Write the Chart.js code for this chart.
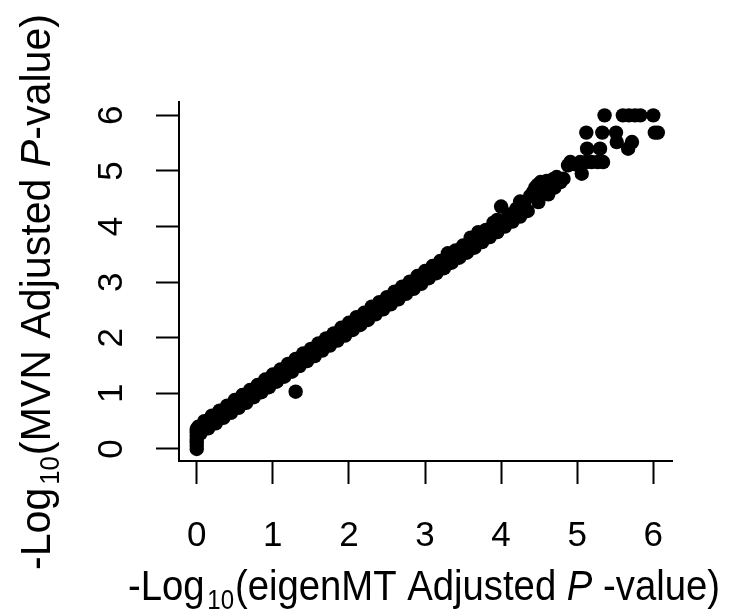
<!DOCTYPE html>
<html>
<head>
<meta charset="utf-8">
<script src="https://cdn.jsdelivr.net/npm/chart.js@4/dist/chart.umd.min.js"></script>
<style>
  html, body { margin: 0; padding: 0; background: #fff; }
  #wrap { width: 735px; height: 614px; }
</style>
</head>
<body>
<div id="wrap"><canvas id="c" width="735" height="614"></canvas></div>
<script>
// -log10 adjusted p-values
// x = eigenMT, y = MVN
const eigenMT = [
  // stack at zero
  0, 0, 0, 0, 0, 0, 0, 0.02,
  // upper side of the band
  0.1, 0.2, 0.3, 0.4, 0.5, 0.6, 0.7, 0.8, 0.9, 1.0,
  1.1, 1.2, 1.3, 1.4, 1.5, 1.6, 1.7, 1.8, 1.9, 2.0,
  2.1, 2.2, 2.3, 2.4, 2.5, 2.6, 2.7, 2.8, 2.9, 3.0,
  3.1, 3.2, 3.3, 3.4, 3.5, 3.6, 3.7, 3.8, 3.9, 3.95,
  4.0, 4.1, 4.2, 4.25, 4.3,
  // lower side of the band
  0.05, 0.15, 0.25, 0.35, 0.45, 0.55, 0.65, 0.75, 0.85, 0.95,
  1.05, 1.15, 1.25, 1.35, 1.45, 1.55, 1.65, 1.75, 1.85, 1.95,
  2.05, 2.15, 2.25, 2.35, 2.45, 2.55, 2.65, 2.75, 2.85, 2.95,
  3.05, 3.15, 3.25, 3.35, 3.45, 3.55, 3.65, 3.75, 3.85, 3.95,
  4.05, 4.15, 4.25, 4.35,
  // cluster 4.4 - 5.3
  4.38, 4.42, 4.45, 4.48, 4.50, 4.49, 4.52, 4.55, 4.58, 4.60,
  4.62, 4.65, 4.68, 4.70, 4.73, 4.78, 4.82, 4.88, 4.91, 4.97,
  5.04, 5.06, 5.12, 5.19, 5.27, 5.34,
  // top rows
  5.36, 5.60, 5.68, 5.76, 5.83, 6.00,
  5.12, 5.33, 5.51, 6.02, 6.06,
  5.13, 5.30, 5.52, 5.67, 5.72,
  // outlier
  1.30
];
const mvn = [
  0, 0.06, 0.12, 0.18, 0.24, 0.30, 0.36, 0.40,
  0.50, 0.60, 0.69, 0.78, 0.88, 0.97, 1.06, 1.15, 1.25, 1.34,
  1.43, 1.53, 1.62, 1.72, 1.80, 1.90, 1.99, 2.08, 2.18, 2.27,
  2.37, 2.45, 2.56, 2.64, 2.73, 2.83, 2.92, 3.01, 3.11, 3.20,
  3.29, 3.38, 3.52, 3.57, 3.66, 3.80, 3.90, 3.94, 4.07, 4.12,
  4.36, 4.22, 4.32, 4.45, 4.42,
  0.28, 0.37, 0.46, 0.56, 0.65, 0.74, 0.83, 0.93, 1.02, 1.11,
  1.21, 1.30, 1.39, 1.49, 1.58, 1.67, 1.77, 1.86, 1.95, 2.04,
  2.14, 2.23, 2.32, 2.42, 2.51, 2.60, 2.69, 2.79, 2.88, 2.97,
  3.07, 3.16, 3.25, 3.35, 3.44, 3.53, 3.62, 3.72, 3.81, 3.90,
  4.00, 4.09, 4.18, 4.28,
  4.55, 4.62, 4.70, 4.75, 4.60, 4.44, 4.80, 4.72, 4.65, 4.82,
  4.58, 4.75, 4.85, 4.70, 4.89, 4.80, 4.86, 5.10, 5.16, 5.12,
  5.16, 4.95, 5.16, 5.16, 5.16, 5.16,
  6.00, 6.00, 6.00, 6.00, 6.00, 6.00,
  5.69, 5.69, 5.69, 5.69, 5.69,
  5.40, 5.40, 5.52, 5.40, 5.52,
  1.03
];

const xTicks = [0, 1, 2, 3, 4, 5, 6];
const yTicks = [0, 1, 2, 3, 4, 5, 6];

// axis titles in pieces: [text, style]
const xTitle = [['-Log', ''], ['10', 'sub'], ['(eigenMT Adjusted ', ''], ['P', 'italic'], [' -value)', '']];
const yTitle = [['-Log', ''], ['10', 'sub'], ['(MVN Adjusted ', ''], ['P', 'italic'], ['-value)', '']];

const FAMILY = '"Liberation Sans", Arial, Helvetica, sans-serif';
const TICK_SIZE = 35;
const TITLE_SIZE = 43;

function partFont(style, size) {
  if (style === 'sub') return `${Math.round(size * 0.62)}px ${FAMILY}`;
  if (style === 'italic') return `italic ${size}px ${FAMILY}`;
  return `${size}px ${FAMILY}`;
}

// draws a mixed-style title centred at (cx, cy), squeezed to the target width
function drawTitle(ctx, parts, cx, cy, angle, targetW) {
  const widths = parts.map(p => {
    ctx.font = partFont(p[1], TITLE_SIZE);
    return ctx.measureText(p[0]).width + (p[1] === 'sub' ? 4 : 0);
  });
  const total = widths.reduce((a, b) => a + b, 0);
  const sx = targetW / total;
  ctx.save();
  ctx.translate(cx, cy);
  ctx.rotate(angle);
  ctx.scale(sx, 1);
  ctx.textAlign = 'left';
  ctx.textBaseline = 'alphabetic';
  let x = -total / 2;
  parts.forEach((p, i) => {
    ctx.font = partFont(p[1], TITLE_SIZE);
    const dy = p[1] === 'sub' ? TITLE_SIZE * 0.2 : 0;
    ctx.fillText(p[0], x + (p[1] === 'sub' ? 3 : 0), dy);
    x += widths[i];
  });
  ctx.restore();
}

const axisText = {
  id: 'axisText',
  afterDraw(chart) {
    const ctx = chart.ctx;
    const xs = chart.scales.x, ys = chart.scales.y;
    ctx.save();
    ctx.fillStyle = '#000';
    ctx.font = `${TICK_SIZE}px ${FAMILY}`;
    ctx.textAlign = 'center';
    ctx.textBaseline = 'alphabetic';
    xTicks.forEach(v => ctx.fillText(String(v), xs.getPixelForValue(v), 546));
    yTicks.forEach(v => {
      ctx.save();
      ctx.translate(122, ys.getPixelForValue(v));
      ctx.rotate(-Math.PI / 2);
      ctx.fillText(String(v), 0, 0);
      ctx.restore();
    });
    drawTitle(ctx, xTitle, 424, 600, 0, 592);
    drawTitle(ctx, yTitle, 50, 292, -Math.PI / 2, 556);
    ctx.restore();
  }
};

const points = eigenMT.map((x, i) => ({ x: x, y: mvn[i] }));

const axisCommon = {
  border: { display: true, color: '#000', width: 2 },
  grid: { drawOnChartArea: false, drawTicks: true, tickLength: 23, tickWidth: 2, tickColor: '#000' },
  ticks: { display: false }
};

new Chart(document.getElementById('c').getContext('2d'), {
  type: 'scatter',
  data: {
    datasets: [{
      data: points,
      pointRadius: 7.2,
      pointHoverRadius: 7.2,
      pointBackgroundColor: '#000',
      pointBorderWidth: 0,
      clip: false
    }]
  },
  options: {
    responsive: false,
    devicePixelRatio: 1,
    animation: false,
    layout: { padding: { top: 102, right: 63, bottom: 0, left: 0 } },
    plugins: { legend: { display: false }, tooltip: { enabled: false } },
    scales: {
      x: {
        ...axisCommon,
        type: 'linear',
        min: -0.233,
        max: 6.246,
        afterBuildTicks: s => { s.ticks = xTicks.map(v => ({ value: v })); },
        afterFit: s => { s.height = 153; }
      },
      y: {
        ...axisCommon,
        type: 'linear',
        min: -0.216,
        max: 6.24,
        afterBuildTicks: s => { s.ticks = yTicks.map(v => ({ value: v })); },
        afterFit: s => { s.width = 179; }
      }
    }
  },
  plugins: [axisText]
});
</script>
</body>
</html>
